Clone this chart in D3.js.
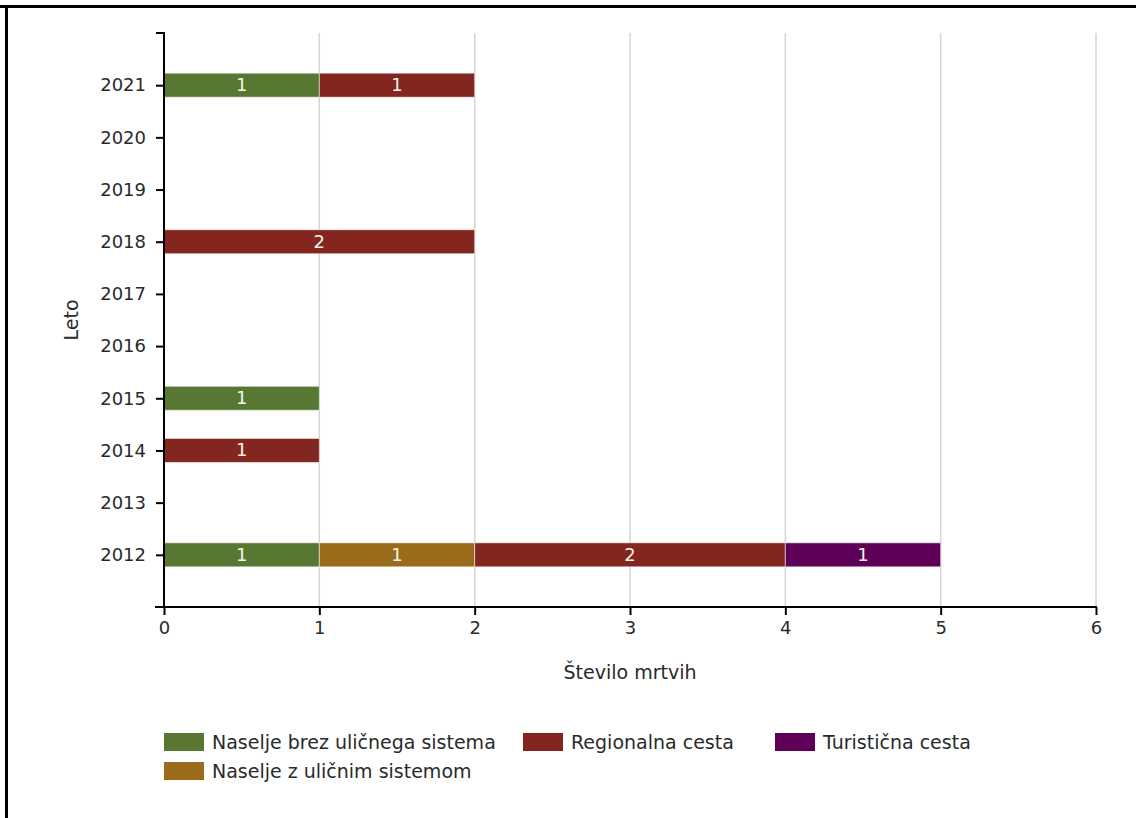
<!DOCTYPE html>
<html><head><meta charset="utf-8">
<script src="https://cdn.jsdelivr.net/npm/d3@7/dist/d3.min.js"></script>
<style>
html,body{margin:0;padding:0;background:#fff;}
svg{display:block;font-family:"DejaVu Sans",sans-serif;}
</style></head>
<body>
<svg id="chart" width="1136" height="818"></svg>
<script>
const years = ["2012","2013","2014","2015","2016","2017","2018","2019","2020","2021"];
const seriesNames = ["Naselje brez uličnega sistema","Naselje z uličnim sistemom","Regionalna cesta","Turistična cesta"];
const seriesColors = ["#577732","#9a6b1b","#82261f","#5e0058"];
const naseljeBrez = [1,0,0,1,0,0,0,0,0,1];
const naseljeZ    = [1,0,0,0,0,0,0,0,0,0];
const regionalna  = [2,0,1,0,0,0,2,0,0,1];
const turisticna  = [1,0,0,0,0,0,0,0,0,0];
const xTicks = [0,1,2,3,4,5,6];
const xTitle = "Število mrtvih";
const yTitle = "Leto";

const seriesValues = [naseljeBrez, naseljeZ, regionalna, turisticna];
const table = years.map((y,i)=>{const o={year:y}; seriesNames.forEach((s,j)=>o[s]=seriesValues[j][i]); return o;});

const svg = d3.select("#chart");
const textColor = "#2a2a2a";
// frame (top and left)
svg.append("rect").attr("x",0).attr("y",5).attr("width",1136).attr("height",3).attr("fill","#000");
svg.append("rect").attr("x",5).attr("y",5).attr("width",3).attr("height",813).attr("fill","#000");

const x = d3.scaleLinear().domain([0,6]).range([164,1096]);
const y = d3.scalePoint().domain(years).range([607,33]).padding(1);
const barH = 24;

// grid
svg.append("g").selectAll("line").data(xTicks.filter(t=>t>0)).join("line")
  .attr("x1",d=>x(d)).attr("x2",d=>x(d)).attr("y1",33).attr("y2",607)
  .attr("stroke","#d4d4d4").attr("stroke-width",1.5);

const stack = d3.stack().keys(seriesNames)(table);
const gBars = svg.append("g");
stack.forEach((layer,j)=>{
  layer.forEach(d=>{
    const v = d[1]-d[0];
    if(v<=0) return;
    gBars.append("rect")
      .attr("x",x(d[0])).attr("y",y(d.data.year)-barH/2)
      .attr("width",x(d[1])-x(d[0])).attr("height",barH)
      .attr("fill",seriesColors[j]).attr("stroke","#fff").attr("stroke-opacity",0.55).attr("stroke-width",1);
    gBars.append("text")
      .attr("x",(x(d[0])+x(d[1]))/2).attr("y",y(d.data.year)+1)
      .attr("text-anchor","middle").attr("dominant-baseline","middle")
      .attr("fill","#f4f4e8").attr("font-size",18).text(v);
  });
});

// y axis
const yAxis = svg.append("g").attr("transform","translate(164,0)")
  .call(d3.axisLeft(y).tickSize(8).tickSizeOuter(0).tickPadding(10));
yAxis.select(".domain").remove();
yAxis.append("line").attr("x1",0).attr("x2",0).attr("y1",32).attr("y2",608).attr("stroke","#000").attr("stroke-width",2);
yAxis.append("line").attr("x1",-8).attr("x2",0).attr("y1",33).attr("y2",33).attr("stroke","#000").attr("stroke-width",2);
yAxis.selectAll(".tick line").attr("stroke-width",2);
yAxis.selectAll(".tick text").attr("font-size",18).attr("fill",textColor).attr("font-family","DejaVu Sans");

// x axis
const xAxis = svg.append("g").attr("transform","translate(0,607)")
  .call(d3.axisBottom(x).tickValues(xTicks).tickFormat(d3.format("d")).tickSize(8).tickSizeOuter(0).tickPadding(6));
xAxis.select(".domain").remove();
xAxis.append("line").attr("x1",155).attr("x2",1097).attr("y1",0).attr("y2",0).attr("stroke","#000").attr("stroke-width",2);
xAxis.selectAll(".tick line").attr("stroke-width",2);
xAxis.selectAll(".tick text").attr("font-size",18).attr("fill",textColor).attr("font-family","DejaVu Sans");

// titles
svg.append("text").attr("x",630).attr("y",673).attr("text-anchor","middle").attr("dominant-baseline","middle").attr("font-size",19).attr("fill",textColor).text(xTitle);
svg.append("text").attr("transform","translate(72,320) rotate(-90)").attr("text-anchor","middle").attr("dominant-baseline","middle").attr("font-size",19).attr("fill",textColor).text(yTitle);

// legend
const legendPos = [[164,742],[164,771],[523,742],[775,742]];
seriesNames.forEach((s,j)=>{
  const [lx,ly] = legendPos[j];
  svg.append("rect").attr("x",lx).attr("y",ly-9).attr("width",40).attr("height",18).attr("fill",seriesColors[j]);
  svg.append("text").attr("x",lx+48).attr("y",ly+1).attr("dominant-baseline","middle").attr("font-size",19).attr("fill",textColor).text(s);
});
</script>
</body></html>
